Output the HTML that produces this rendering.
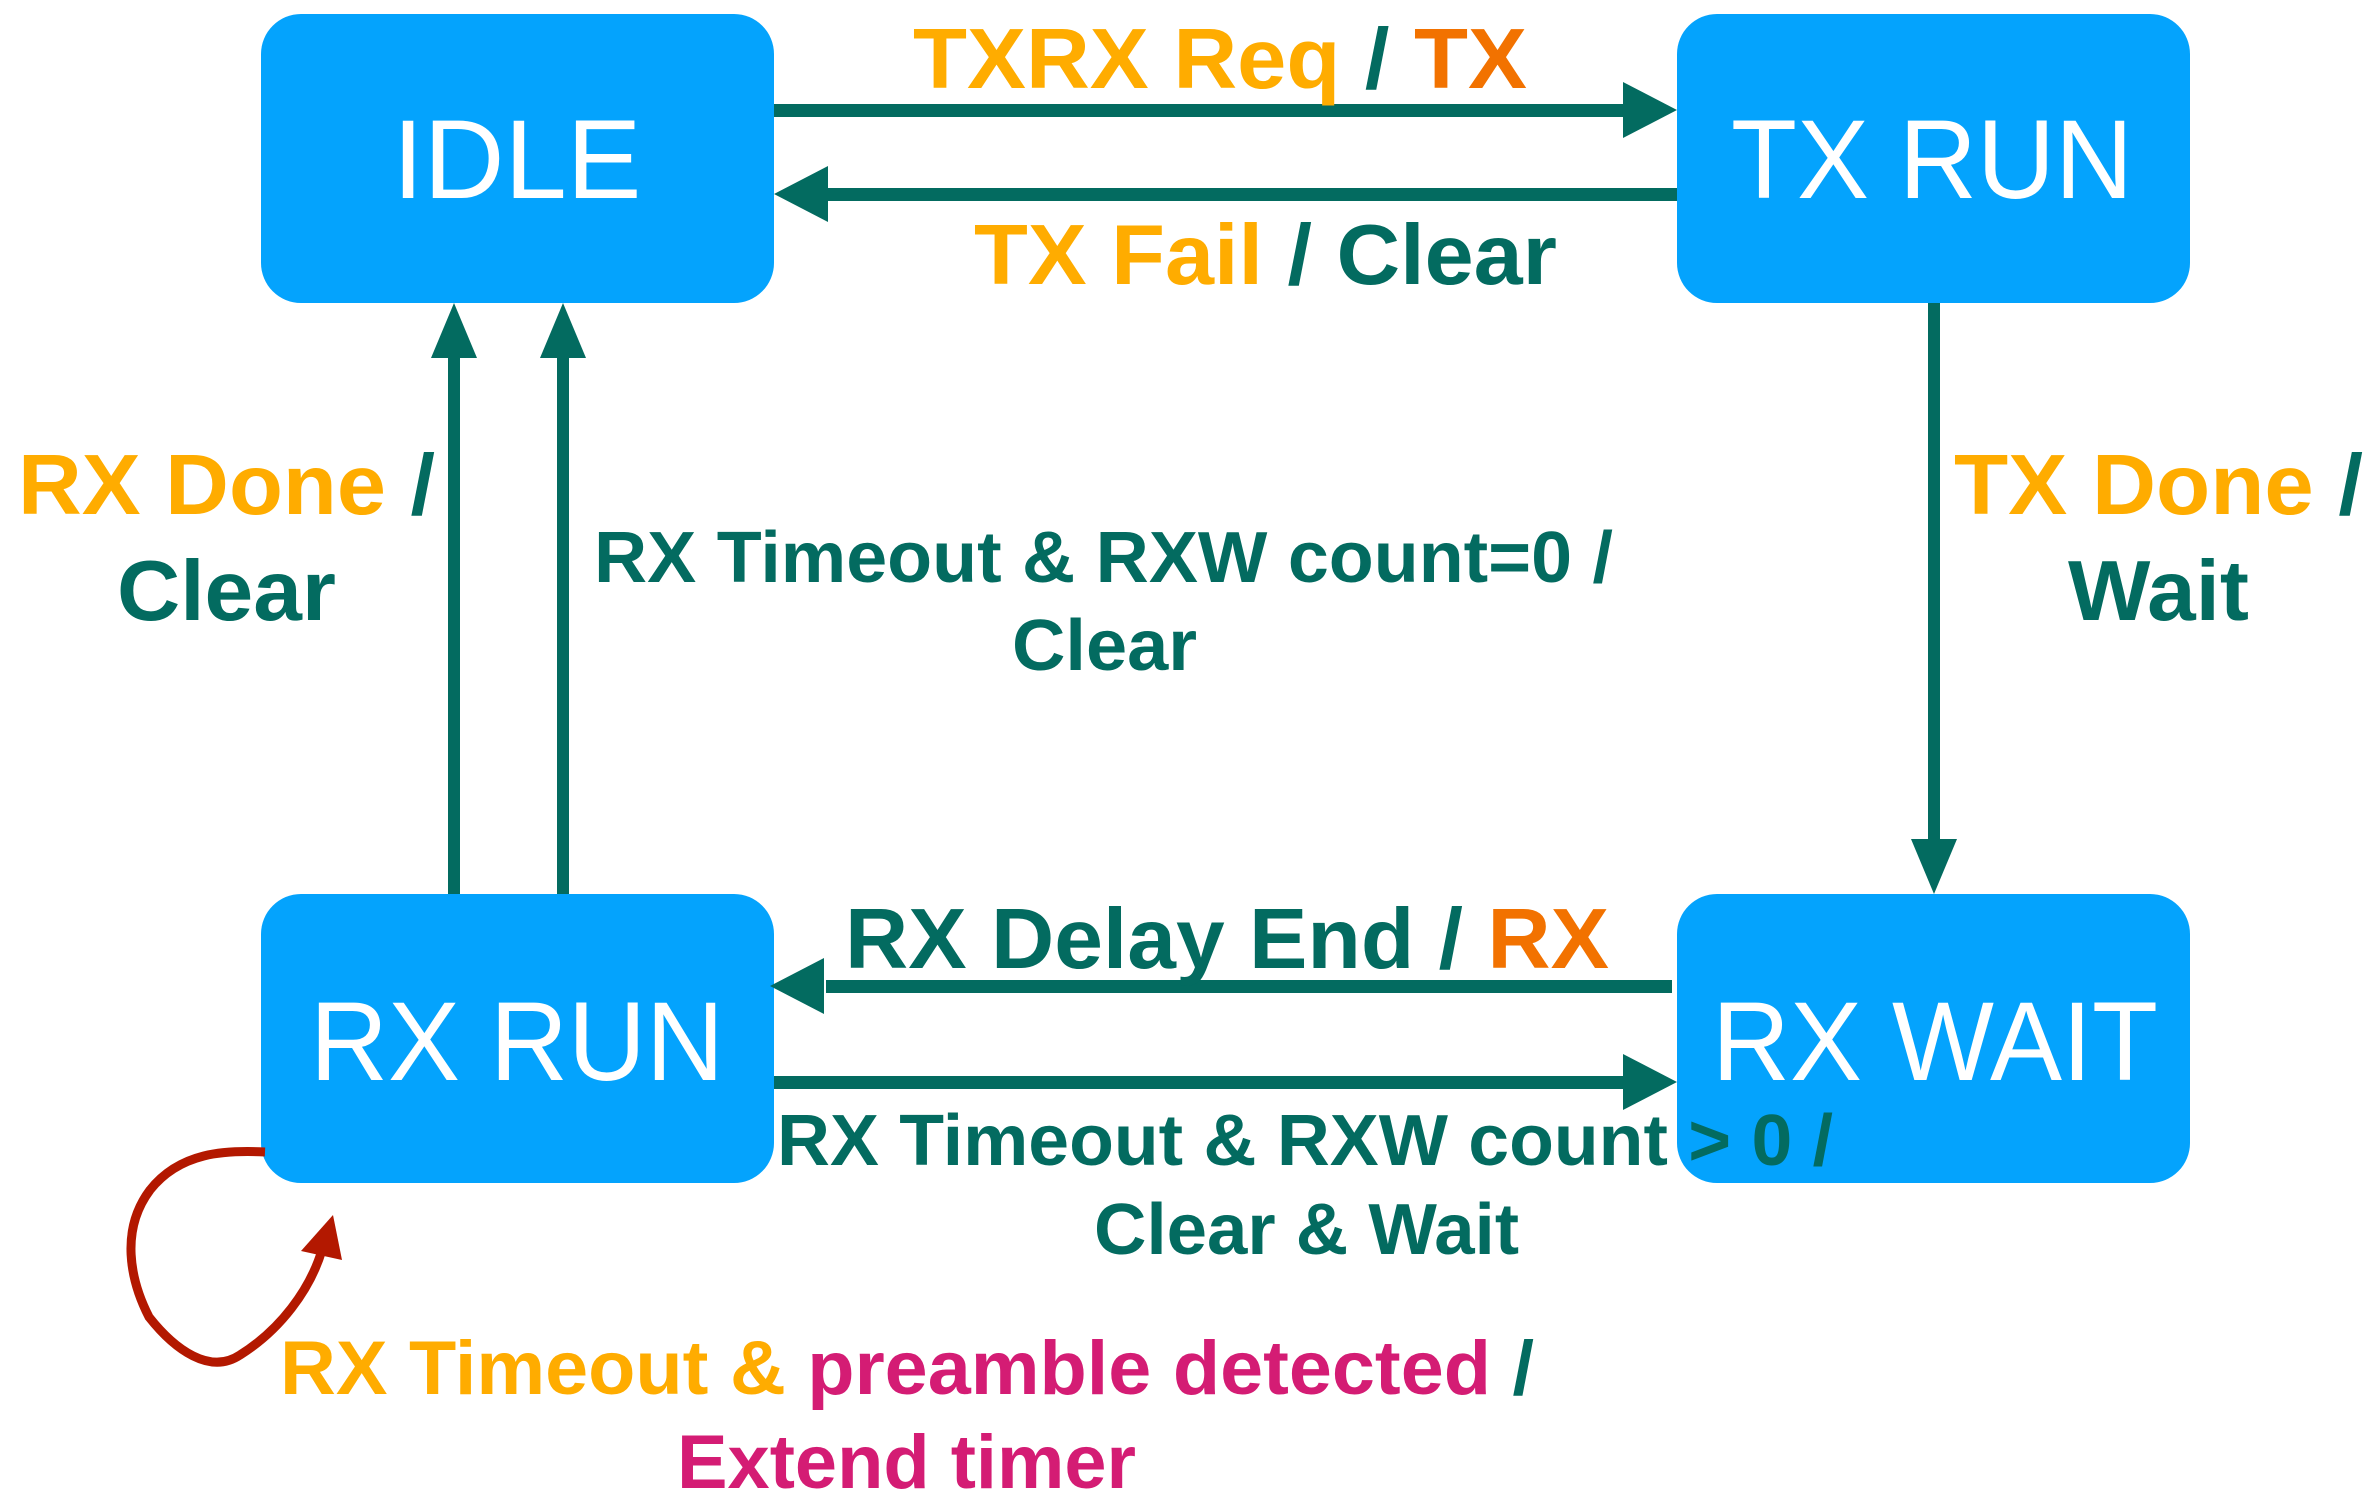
<!DOCTYPE html>
<html><head><meta charset="utf-8"><style>
html,body{margin:0;padding:0;background:#fff;}
svg{display:block;}
text{font-family:"Liberation Sans",Arial,sans-serif;}
.b{font-weight:bold;}
.box{fill:#04A3FD;}
.st{font-size:112px;fill:#fff;}
.o{fill:#FFAC00}.t{fill:#036B60}.r{fill:#F27200}.m{fill:#D41C74}
</style></head><body>
<svg width="2375" height="1507" viewBox="0 0 2375 1507" xmlns="http://www.w3.org/2000/svg">
<rect class="box" x="261" y="14" width="513" height="289" rx="40"/>
<rect class="box" x="1677" y="14" width="513" height="289" rx="40"/>
<rect class="box" x="261" y="894" width="513" height="289" rx="40"/>
<rect class="box" x="1677" y="894" width="513" height="289" rx="40"/>

<g fill="#036B60" stroke="none">
<!-- IDLE -> TX RUN -->
<rect x="774" y="104" width="850" height="13"/>
<polygon points="1677,110 1623,82 1623,138"/>
<!-- TX RUN -> IDLE -->
<rect x="826" y="188" width="851" height="13"/>
<polygon points="774,194 828,166 828,222"/>
<!-- RX RUN -> IDLE (two) -->
<rect x="448" y="355" width="12" height="539"/>
<polygon points="454,303 431,358 477,358"/>
<rect x="557" y="355" width="12" height="539"/>
<polygon points="563,303 540,358 586,358"/>
<!-- TX RUN -> RX WAIT -->
<rect x="1928" y="303" width="12" height="538"/>
<polygon points="1934,894 1911,839 1957,839"/>
<!-- RX WAIT -> RX RUN -->
<rect x="826" y="980" width="846" height="13"/>
<polygon points="770,986 824,958 824,1014"/>
<!-- RX RUN -> RX WAIT -->
<rect x="774" y="1076" width="852" height="13"/>
<polygon points="1677,1082 1623,1054 1623,1110"/>
</g>

<!-- self loop -->
<path d="M265,1152 C225,1150 180,1152 150,1190 C120,1230 130,1280 149,1317 C175,1350 210,1375 240,1355 C280,1330 310,1290 322,1250" fill="none" stroke="#B31800" stroke-width="9"/>
<polygon points="333,1215 301,1251 342,1260" fill="#B31800"/>

<text class="st" x="517" y="198" text-anchor="middle">IDLE</text>
<text class="st" x="1932" y="198" text-anchor="middle" textLength="402" lengthAdjust="spacingAndGlyphs">TX RUN</text>
<text class="st" x="517" y="1080" text-anchor="middle" textLength="414" lengthAdjust="spacingAndGlyphs">RX RUN</text>
<text class="st" x="1935" y="1080" text-anchor="middle" textLength="446" lengthAdjust="spacingAndGlyphs">RX WAIT</text>

<g class="b" font-size="85">
<text x="913" y="88" textLength="614" lengthAdjust="spacingAndGlyphs"><tspan class="o">TXRX Req</tspan><tspan class="t"> / </tspan><tspan class="r">TX</tspan></text>
<text x="974" y="284" textLength="583" lengthAdjust="spacingAndGlyphs"><tspan class="o">TX Fail</tspan><tspan class="t"> / Clear</tspan></text>
<text x="18" y="514" textLength="417" lengthAdjust="spacingAndGlyphs"><tspan class="o">RX Done</tspan><tspan class="t"> /</tspan></text>
<text class="t" x="117" y="620" textLength="219" lengthAdjust="spacingAndGlyphs">Clear</text>
<text x="1954" y="514" textLength="409" lengthAdjust="spacingAndGlyphs"><tspan class="o">TX Done</tspan><tspan class="t"> /</tspan></text>
<text class="t" x="2068" y="620" textLength="181" lengthAdjust="spacingAndGlyphs">Wait</text>
<text x="845" y="968" textLength="764" lengthAdjust="spacingAndGlyphs"><tspan class="t">RX Delay End / </tspan><tspan class="r">RX</tspan></text>
</g>
<g class="b" font-size="72">
<text class="t" x="594" y="582" textLength="1019" lengthAdjust="spacingAndGlyphs">RX Timeout &amp; RXW count=0 /</text>
<text class="t" x="1012" y="670" textLength="185" lengthAdjust="spacingAndGlyphs">Clear</text>
<text class="t" x="777" y="1165" textLength="1056" lengthAdjust="spacingAndGlyphs">RX Timeout &amp; RXW count &gt; 0 /</text>
<text class="t" x="1094" y="1254" textLength="425" lengthAdjust="spacingAndGlyphs">Clear &amp; Wait</text>
</g>
<g class="b" font-size="76">
<text x="280" y="1394" textLength="1254" lengthAdjust="spacingAndGlyphs"><tspan class="o">RX Timeout &amp; </tspan><tspan class="m">preamble detected</tspan><tspan class="t"> /</tspan></text>
<text class="m" x="677" y="1488" textLength="459" lengthAdjust="spacingAndGlyphs">Extend timer</text>
</g>
</svg>
</body></html>
